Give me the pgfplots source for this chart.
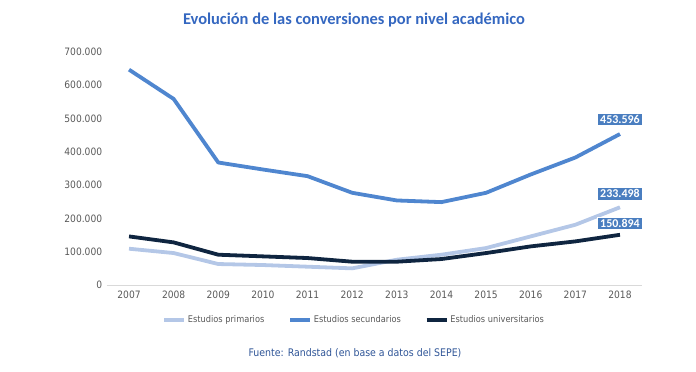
\documentclass[border=0pt]{standalone}
\usepackage{fontspec}
\setmainfont{Carlito}
\newfontfamily\tahoma{DejaVu Sans Condensed}
\usepackage{pgfplots}
\pgfplotsset{compat=1.18}
\definecolor{prim}{HTML}{B4C7E7}
\definecolor{secu}{HTML}{4F86CF}
\definecolor{univ}{HTML}{0F2540}
\definecolor{titblue}{HTML}{3467C0}
\definecolor{footblue}{HTML}{2F5597}
\definecolor{tickgray}{HTML}{595959}
\definecolor{boxblue}{HTML}{4A7EC0}
\begin{document}
\begin{tikzpicture}
\useasboundingbox (0,0) rectangle (696bp,372bp);
\begin{axis}[
  at={(106.7bp,87bp)}, anchor=south west,
  scale only axis, width=535.6bp, height=233bp,
  xmin=-0.5, xmax=11.5, ymin=0, ymax=700000,
  axis x line*=bottom, axis y line*=left,
  x axis line style={draw=gray!30, line width=0.8pt, -},
  y axis line style={draw=none},
  xtick={0,...,11},
  xticklabels={2007,2008,2009,2010,2011,2012,2013,2014,2015,2016,2017,2018},
  ytick={0,100000,200000,300000,400000,500000,600000,700000},
  yticklabels={0,100.000,200.000,300.000,400.000,500.000,600.000,700.000},
  scaled y ticks=false,
  tick style={draw=none},
  ticklabel style={font=\tahoma\fontsize{10.2}{12}\selectfont, text=tickgray},
  yticklabel style={xshift=-1bp},
  xticklabel style={yshift=-2bp},
  legend columns=3,
  legend style={at={(0.462,-0.150)}, anchor=center, draw=none, fill=none,
    font=\tahoma\fontsize{9.2}{11}\selectfont, text=tickgray,
    /tikz/every even column/.append style={column sep=22bp}},
  legend image code/.code={\draw[#1, line width=3.5bp] (0bp,0bp) -- (20bp,0bp);},
  clip=false,
]
\addplot[prim, line width=3.8bp, line join=round] coordinates {
(0,109000) (1,96000) (2,63000) (3,60000) (4,55000) (5,50000) (6,76000) (7,91000) (8,111000) (9,146000) (10,181000) (11,233498)};
\addlegendentry{Estudios primarios}
\addplot[secu, line width=3.8bp, line join=round] coordinates {
(0,647000) (1,559000) (2,368000) (3,347000) (4,327000) (5,277000) (6,254000) (7,249000) (8,277000) (9,332000) (10,383000) (11,453596)};
\addlegendentry{Estudios secundarios}
\addplot[univ, line width=3.8bp, line join=round] coordinates {
(0,146000) (1,128000) (2,91000) (3,86000) (4,81000) (5,70000) (6,70000) (7,78000) (8,96000) (9,116000) (10,131000) (11,150894)};
\addlegendentry{Estudios universitarios}
\node[fill=boxblue, draw=white, line width=0.6bp, text=white, font=\bfseries\fontsize{12}{13}\selectfont, inner xsep=3bp, inner ysep=2bp, anchor=south] at (axis cs:11,453596) [yshift=8bp] {453.596};
\node[fill=boxblue, draw=white, line width=0.6bp, text=white, font=\bfseries\fontsize{12}{13}\selectfont, inner xsep=3bp, inner ysep=2bp, anchor=south] at (axis cs:11,233498) [yshift=7bp] {233.498};
\node[fill=boxblue, draw=white, line width=0.6bp, text=white, font=\bfseries\fontsize{12}{13}\selectfont, inner xsep=3bp, inner ysep=2bp, anchor=south] at (axis cs:11,150894) [yshift=5bp] {150.894};
\end{axis}
\node[text=titblue, font=\bfseries\fontsize{16.5}{18}\selectfont] at (354bp,352bp) {Evolución de las conversiones por nivel académico};
\node[text=footblue, font=\tahoma\fontsize{10.5}{12}\selectfont] at (355bp,19bp) {Fuente: Randstad (en base a datos del SEPE)};
\end{tikzpicture}
\end{document}
